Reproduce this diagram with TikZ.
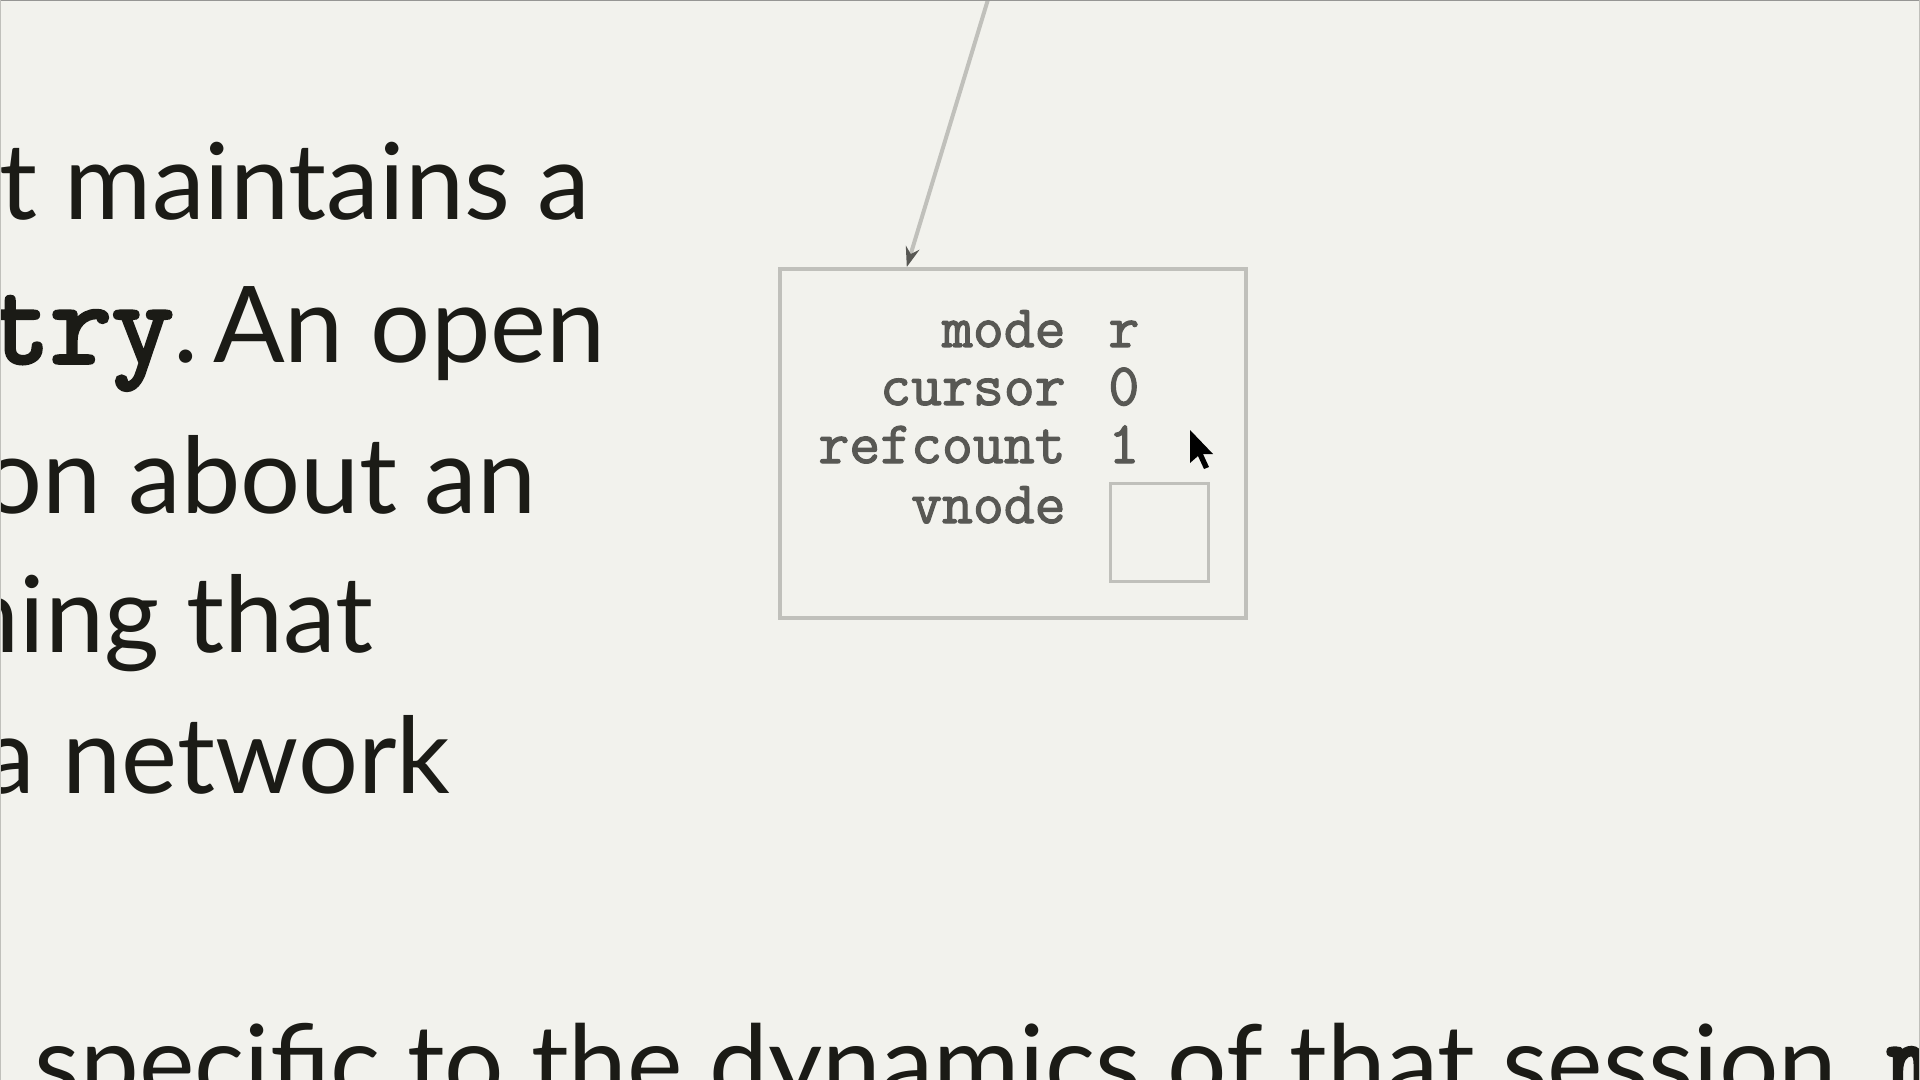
\documentclass[tikz,border=0pt]{standalone}
\usepackage{fontspec}
\setmainfont{Lato}
\newfontfamily\codefont[FakeBold=3]{Latin Modern Mono}
\newfontfamily\fieldfont[FakeBold=2]{Latin Modern Mono}
\usetikzlibrary{arrows.meta,calc,positioning}
\definecolor{slidebg}{RGB}{242,242,237}
\definecolor{inktext}{RGB}{27,27,22}
\definecolor{fieldgray}{RGB}{88,88,84}
\definecolor{framegray}{RGB}{192,192,187}
\definecolor{edgegray}{RGB}{150,150,148}
\newcommand{\code}[1]{{\fontsize{60}{60}\selectfont\codefont #1}}
\tikzset{
	slideline/.style={inner sep=0pt, anchor=base east, text=inktext, font=\fontsize{53}{64}\selectfont\frenchspacing},
	fieldname/.style={inner sep=0pt, anchor=base east, text=fieldgray, font=\fontsize{30}{30}\selectfont\fieldfont},
	fieldval/.style={inner sep=0pt, anchor=base west, text=fieldgray, font=\fontsize{30}{30}\selectfont\fieldfont},
	structbox/.style={draw=framegray, line width=2pt, inner sep=0pt},
}

\begin{document}
\frenchspacing
\begin{tikzpicture}[x=0.5pt, y=-0.5pt]
	\useasboundingbox (0,0) rectangle (1920,1080);
	\fill[slidebg] (0,0) rectangle (1920,1080);
	\begin{scope}
		\clip (0,0) rectangle (1920,1080);
		% slide text, cut at the left
		\node[slideline] (lineA)	at	(590, 220)	{t maintains a};
		\node[slideline] (lineB)	at	(606, 363)	{An open};
		\node[slideline] (lineBcode)	at	(199, 363)	{\code{try}.};
		\node[slideline] (lineC)	at	(537, 513)	{on about an};
		\node[slideline] (lineD)	at	(374, 652)	{ning that};
		\node[slideline] (lineE)	at	(451, 793)	{a network};
		\node[slideline, anchor=base west, font=\fontsize{52.5}{64}\selectfont\frenchspacing] (lineF)	at	(-51, 1100)
		{n specific to the dynamics of that session. \code{m}};
		% file table entry
		\node[structbox, minimum width=233pt, minimum height=174.5pt] (entry)	at	(1013, 443.5)	{};
		\node[fieldname] (modekey)		at	(1066, 347)	{mode};
		\node[fieldname] (cursorkey)	at	(1066, 405)	{cursor};
		\node[fieldname] (refkey)		at	(1066, 463)	{refcount};
		\node[fieldname] (vnodekey)		at	(1066, 523)	{vnode};
		\node[fieldval] (modeval)		at	(1108, 347)	{r};
		\node[fieldval] (cursorval)		at	(1108, 405)	{0};
		\node[fieldval] (refval)		at	(1108, 463)	{1};
		\node[structbox, line width=1.5pt, minimum size=49pt] (vnodebox)	at	(1159, 532.5)	{};
		\coordinate (src)	at	(1003, -50);
		\draw[framegray, line width=2pt, -{Stealth[length=10pt, width=7pt, color=fieldgray]}]
			(src) -- ($(entry.north west)!0.274!(entry.north east)$);
		% mouse pointer
		\fill[black] (1190,430) -- ++(0,33) -- ++(8,-7) -- ++(6,13) -- ++(5,-2) -- ++(-6,-13) -- ++(10,0) -- cycle;
	\end{scope}
	\draw[edgegray, line width=1pt] (0,0.5) -- (1920,0.5);
	\draw[framegray, line width=0.5pt] (0.5,0) -- (0.5,1080) (1919.5,0) -- (1919.5,1080);
\end{tikzpicture}
\end{document}
